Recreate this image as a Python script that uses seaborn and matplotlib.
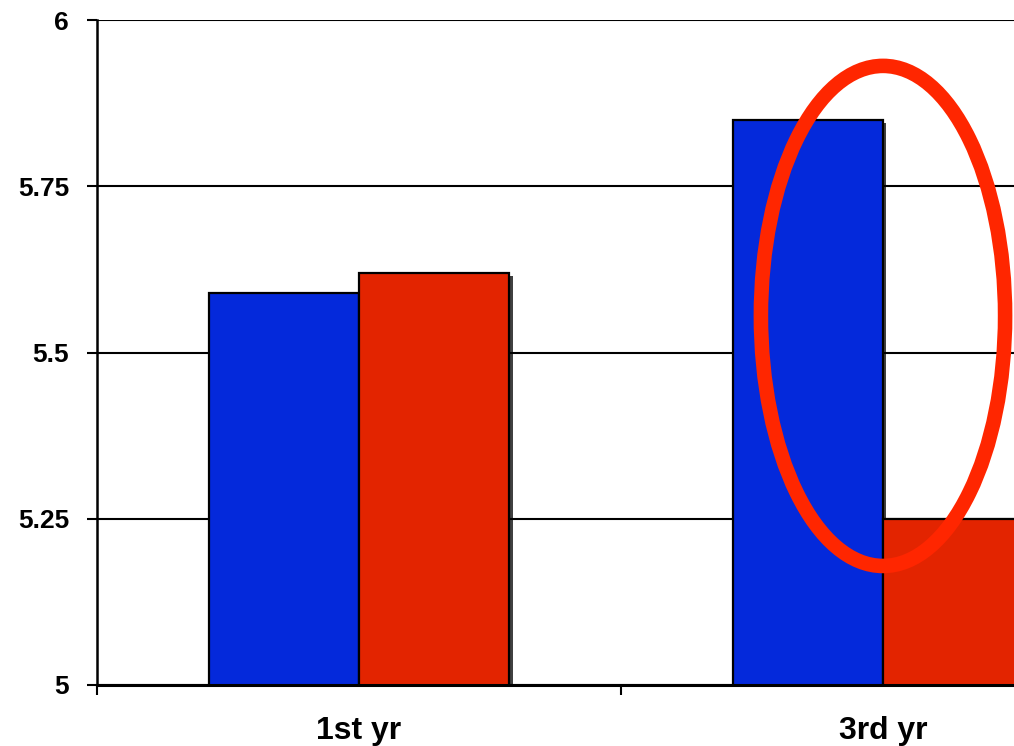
import matplotlib
matplotlib.use("Agg")
import matplotlib.pyplot as plt
import matplotlib.patheffects as pe
from matplotlib.patches import Ellipse
import seaborn as sns
import pandas as pd

categories = ["1st yr", "3rd yr"]
series_names = ["Blue", "Red"]
blue_values = [5.59, 5.85]
red_values = [5.62, 5.25]
ytick_values = [5, 5.25, 5.5, 5.75, 6]
ytick_labels = ["5", "5.25", "5.5", "5.75", "6"]
colors = ["#0429DB", "#E32400"]

sns.set_style("white")
plt.rcParams['font.family'] = ['Liberation Sans', 'DejaVu Sans']

df = pd.DataFrame({
    "cat": categories * 2,
    "series": [series_names[0]] * 2 + [series_names[1]] * 2,
    "value": blue_values + red_values,
})

fig = plt.figure(figsize=(10.14, 7.46), dpi=100)
ax = fig.add_axes([97 / 1014, 61 / 746, 1048 / 1014, 665 / 746])

sns.barplot(data=df, x="cat", y="value", hue="series", palette=colors,
            order=categories, hue_order=series_names, width=0.573,
            edgecolor="black", linewidth=1.6, legend=False, ax=ax,
            errorbar=None, saturation=1)

for p in ax.patches:
    p.set_path_effects([pe.SimplePatchShadow(offset=(2.5, -2.5), shadow_rgbFace="black", alpha=0.75),
                        pe.Normal()])

ax.set_ylim(5, 6)
ax.set_xlim(-0.5, 1.5)
ax.set_yticks(ytick_values)
ax.set_yticklabels(ytick_labels, fontsize=19, fontweight="bold", color="black")
ax.tick_params(axis="y", direction="out", length=7, width=1.5, pad=13, left=True, colors="black")

ax.set_xticks([-0.5, 0.5, 1.5])
ax.set_xticklabels(["", "", ""])
ax.set_xticks([0, 1], minor=True)
ax.set_xticklabels(categories, minor=True, fontsize=23, fontweight="bold", color="black")
ax.tick_params(axis="x", which="major", direction="out", length=7, width=1.5, bottom=True, colors="black")
ax.tick_params(axis="x", which="minor", length=0, pad=22)

ax.set_xlabel("")
ax.set_ylabel("")
ax.set_axisbelow(True)
ax.grid(axis="y", color="black", linewidth=1.5)
ax.grid(axis="x", visible=False)
for s in ["top", "right"]:
    ax.spines[s].set_visible(False)
ax.spines["left"].set_color("black")
ax.spines["left"].set_linewidth(1.8)
ax.spines["bottom"].set_color("black")
ax.spines["bottom"].set_linewidth(2.2)

ell = Ellipse((1.0, 5.555), width=0.466, height=0.752, fill=False,
              edgecolor="#FF2600", linewidth=10.5, zorder=10)
ax.add_patch(ell)

fig.savefig("out.png", dpi=100, facecolor="white")
